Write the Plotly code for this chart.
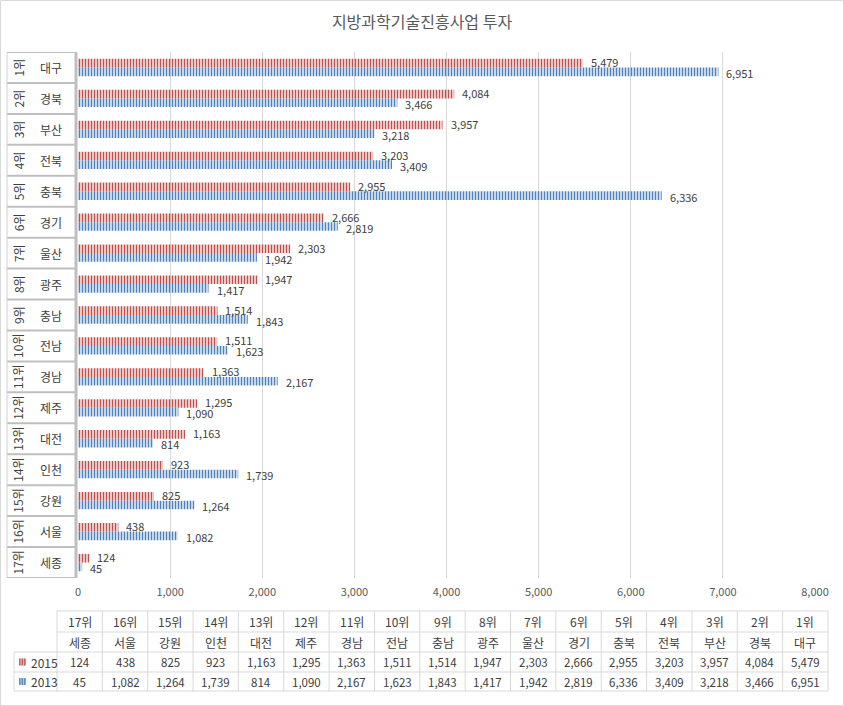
import plotly.graph_objects as go

ranks = [f"{i}위" for i in range(1, 18)]
regions = ["대구", "경북", "부산", "전북", "충북", "경기", "울산", "광주", "충남",
           "전남", "경남", "제주", "대전", "인천", "강원", "서울", "세종"]
v2015 = [5479, 4084, 3957, 3203, 2955, 2666, 2303, 1947, 1514, 1511, 1363, 1295, 1163, 923, 825, 438, 124]
v2013 = [6951, 3466, 3218, 3409, 6336, 2819, 1942, 1417, 1843, 1623, 2167, 1090, 814, 1739, 1264, 1082, 45]
series_names = ["2015", "2013"]
title_text = "지방과학기술진흥사업 투자"

W, H = 844, 706
L, R, T, B = 78, 29, 52, 128
PW, PH = W - L - R, H - T - B


def px(x):
    return (x - L) / PW


def py(y):
    return (H - B - y) / PH


FONT = "Noto Sans CJK KR, Noto Sans, sans-serif"
TXT = "#404040"
GRID = "#D9D9D9"
RED_D, RED_L = "#C0504D", "#E6B9B8"
BLUE_D, BLUE_L = "#4F81BD", "#B4C9E3"

fig = go.Figure()
for nm, vals, cl, cd in [(series_names[0], v2015, RED_L, RED_D), (series_names[1], v2013, BLUE_L, BLUE_D)]:
    fig.add_trace(go.Bar(
        y=regions, x=vals, name=nm, orientation="h",
        marker=dict(color=cl, line=dict(width=0),
                    pattern=dict(shape="|", fgcolor=cd, size=3, solidity=0.55, fillmode="replace")),
    ))

shapes = []
annotations = []


def ann(x, y, text, xref="paper", yref="paper", size=12, **kw):
    annotations.append(dict(x=x, y=y, xref=xref, yref=yref, text=text, showarrow=False,
                            xanchor=kw.pop("xanchor", "center"), yanchor="middle",
                            font=dict(color=TXT, size=size, family=FONT), **kw))


def line(x0, x1, y0, y1, xref="paper", yref="paper", color=GRID, width=1):
    shapes.append(dict(type="line", xref=xref, yref=yref, x0=x0, x1=x1, y0=y0, y1=y1,
                       line=dict(color=color, width=width), layer="above"))


# bar value labels
for rg, a, b in zip(regions, v2015, v2013):
    ann(a, rg, f"{a:,}", xref="x", yref="y", size=11, xanchor="left", xshift=7, yshift=5.5, borderpad=0)
    ann(b, rg, f"{b:,}", xref="x", yref="y", size=11, xanchor="left", xshift=7, yshift=-5.5, borderpad=0)

# left category boxes
n = len(regions)
for k in range(n + 1):
    line(px(7), px(76), k - 0.5, k - 0.5, yref="y", color="#BFBFBF", width=2)
line(px(7), px(7), -0.5, n - 0.5, yref="y", color="#D0D0D0", width=1)
line(px(76), px(76), -0.5, n - 0.5, yref="y", color="#BFBFBF", width=3)
for rk, rg in zip(ranks, regions):
    ann(px(18), rg, rk, yref="y", textangle=-90)
    ann(px(51), rg, rg, yref="y")

# data table
col_x0, col_w = 57, (828 - 57) / 17
rows_y = [611, 632, 652, 672, 691]
cols = list(range(n))[::-1]  # 17위 ... 1위
for j in range(n + 1):
    xx = col_x0 + j * col_w
    line(px(xx), px(xx), py(rows_y[0]), py(rows_y[-1]))
for i, yy in enumerate(rows_y):
    xs = 14 if i >= 2 else col_x0
    line(px(xs), px(828), py(yy), py(yy))
line(px(14), px(14), py(652), py(691))

row_vals = [
    [ranks[c] for c in cols],
    [regions[c] for c in cols],
    [f"{v2015[c]:,}" for c in cols],
    [f"{v2013[c]:,}" for c in cols],
]
for r, vals in enumerate(row_vals):
    yc = (rows_y[r] + rows_y[r + 1]) / 2
    for j, t in enumerate(vals):
        xc = col_x0 + (j + 0.5) * col_w
        ann(px(xc), py(yc), t, size=12 if r < 2 else 11.5)

# legend keys in table
for r, (nm, cd, cl) in enumerate([(series_names[0], RED_D, RED_L), (series_names[1], BLUE_D, BLUE_L)]):
    yc = (rows_y[r + 2] + rows_y[r + 3]) / 2
    shapes.append(dict(type="rect", xref="paper", yref="paper", x0=px(19), x1=px(26),
                       y0=py(yc - 3.5), y1=py(yc + 3.5), fillcolor=cl, line=dict(width=0)))
    for k in range(3):
        xx = 19.8 + k * 2.5
        line(px(xx), px(xx), py(yc - 3.5), py(yc + 3.5), color=cd, width=1.2)
    ann(px(29), py(yc), nm, xanchor="left")

# outer border
shapes.append(dict(type="rect", xref="paper", yref="paper", x0=px(0.5), x1=px(W - 0.5),
                   y0=py(0.5), y1=py(H - 0.5), line=dict(color=GRID, width=1), layer="below"))

fig.update_layout(
    width=W, height=H,
    margin=dict(l=L, r=R, t=T, b=B),
    paper_bgcolor="white", plot_bgcolor="white",
    title=dict(text=title_text, x=0.5, xanchor="center", y=1 - 22 / H, yanchor="middle",
               font=dict(size=16, color="#595959", family=FONT)),
    barmode="group", bargap=0.44, bargroupgap=0,
    showlegend=False,
    xaxis=dict(range=[0, 8000], dtick=1000, tickformat=",", showgrid=True, gridcolor=GRID,
               zeroline=False, showline=False, ticks="", tickfont=dict(color="#595959", size=11, family=FONT),
               ticklabelstandoff=6),
    yaxis=dict(categoryorder="array", categoryarray=regions, range=[n - 0.5, -0.5],
               showticklabels=False, showgrid=False, zeroline=False, ticks=""),
    shapes=shapes, annotations=annotations,
    font=dict(family=FONT, color=TXT),
)

fig.write_html("out.html", config={"displayModeBar": False},
               post_script="document.body.style.margin='0px';document.body.style.overflow='hidden';")
